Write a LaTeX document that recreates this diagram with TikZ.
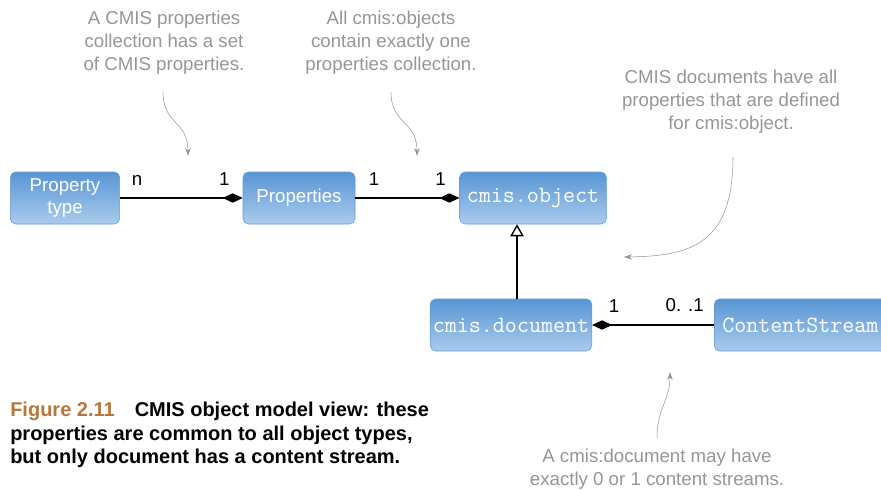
\documentclass[tikz,border=0pt]{standalone}
\usepackage{fontspec}
\setmainfont{Liberation Sans}
\usepackage{xcolor}
\usepackage{tikz}
\usetikzlibrary{positioning, arrows.meta}

\definecolor{boxtop}{RGB}{88,150,212}
\definecolor{boxbot}{RGB}{170,203,236}
\definecolor{boxline}{RGB}{95,155,215}
\definecolor{notegray}{RGB}{150,150,150}
\definecolor{figbrown}{RGB}{184,118,58}

\tikzset{
  classbox/.style={draw=boxline, rounded corners=4pt, top color=boxtop, bottom color=boxbot,
    text=white, minimum height=39pt, align=center, inner sep=2pt, font=\fontsize{14}{16.5}\selectfont},
  monobox/.style={classbox, font=\ttfamily\fontsize{17.5}{19}\selectfont},
  note/.style={text=notegray, align=center, font=\fontsize{14}{17.3}\selectfont},
  notearrow/.style={draw=notegray, -{Stealth[length=6pt, width=4pt]}},
  mult/.style={font=\fontsize{14}{15}\selectfont, inner sep=0pt},
  owns/.style={line width=1.5pt, -{Diamond[length=15pt, width=7pt]}},
  isa/.style={line width=1.5pt, -{Triangle[open, length=9pt, width=10pt, line width=1pt]}}
}

\begin{document}
\begin{tikzpicture}[x=0.75pt, y=-0.75pt]
  \useasboundingbox (0,0) rectangle (881,489);

  % Classes
  \node[classbox, minimum width=82pt] (proptype) at (65,198) {Property\\type};
  \node[classbox, minimum width=84pt] (props) at (299,198) {Properties};
  \node[monobox, minimum width=110pt] (object) at (533,198) {cmis.object};
  \node[monobox, minimum width=121pt] (document) at (511,325) {cmis.document};
  \node[monobox, anchor=west, text width=140pt, align=left, inner xsep=6pt] (stream) at (714,325) {ContentStream};

  % Associations
  \draw[owns] (proptype) -- (props)
    node[mult, pos=0.14, above=9pt] {n}
    node[mult, pos=0.85, above=9pt] {1};
  \draw[owns] (props) -- (object)
    node[mult, pos=0.18, above=9pt] {1}
    node[mult, pos=0.82, above=9pt] {1};
  \draw[owns] (stream) -- (document)
    node[mult, pos=0.24, above=9pt] {0. .1}
    node[mult, pos=0.82, above=9pt] {1};

  % Inheritance
  \coordinate (docup) at (document.north -| 517,0);
  \draw[isa] (docup) -- (docup |- object.south);

  % Notes
  \node[note] (n1) at (164,43) {A CMIS properties\\collection has a set\\of CMIS properties.};
  \node[note] (n2) at (391,43) {All cmis:objects\\contain exactly one\\properties collection.};
  \node[note] (n3) at (731,102) {CMIS documents have all\\properties that are defined\\for cmis:object.};
  \node[note] (n4) at (657,469) {A cmis:document may have\\exactly 0 or 1 content streams.};

  \coordinate (t1) at (188,156);
  \coordinate (t2) at (417,156);
  \coordinate (t3) at (624,257);
  \coordinate (t4) at (670,372);
  \draw[notearrow] (163,92) .. controls (163,125) and (188,120) .. (t1);
  \draw[notearrow] (391,92) .. controls (391,125) and (417,120) .. (t2);
  \draw[notearrow] (733,157) .. controls (733,245) and (690,256) .. (t3);
  \draw[notearrow] (657,438) .. controls (657,408) and (670,400) .. (t4);

  % Caption
  \node[anchor=north west, align=left, inner sep=0pt, font=\bfseries\fontsize{15}{17.6}\selectfont] (caption) at (10,402)
    {\textcolor{figbrown}{Figure 2.11}\hspace{15pt}CMIS object model view: these\\
     properties are common to all object types,\\
     but only document has a content stream.};
\end{tikzpicture}
\end{document}
